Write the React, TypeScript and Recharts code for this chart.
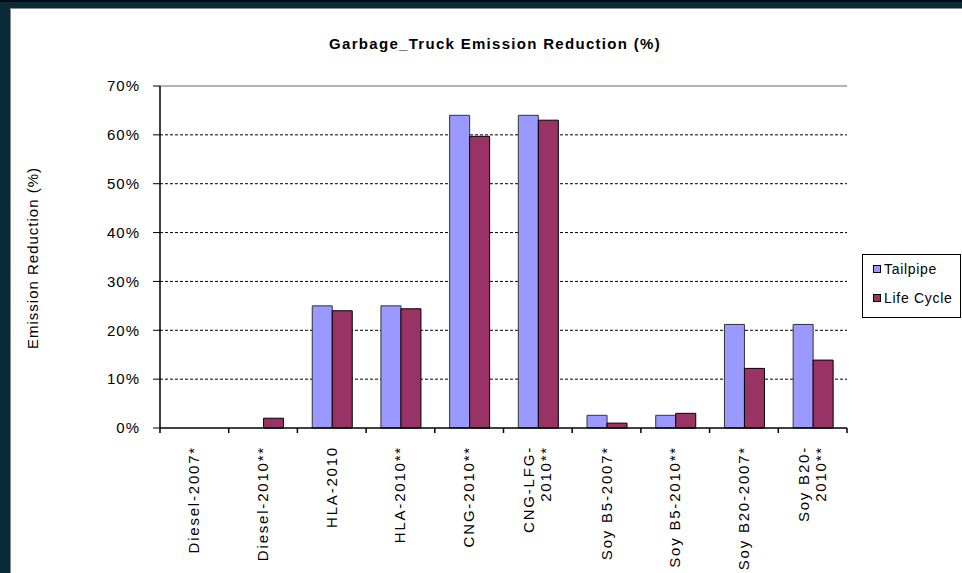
import { BarChart, Bar, XAxis, YAxis, CartesianGrid, ReferenceLine } from 'recharts';

const categories = [
  'Diesel-2007*',
  'Diesel-2010**',
  'HLA-2010',
  'HLA-2010**',
  'CNG-2010**',
  'CNG-LFG-2010**',
  'Soy B5-2007*',
  'Soy B5-2010**',
  'Soy B20-2007*',
  'Soy B20-2010**',
];
const tailpipe = [0, 0, 25, 25, 64, 64, 2.6, 2.6, 21.2, 21.2];
const lifeCycle = [0, 2, 24, 24.4, 59.7, 63, 1, 3, 12.2, 13.9];
const yTicks = [0, 10, 20, 30, 40, 50, 60, 70];
const gridValues = [10, 20, 30, 40, 50, 60];
const seriesNames = ['Tailpipe', 'Life Cycle'];
const seriesColors = ['#9999FF', '#993366'];

const data = categories.map((name, i) => ({ name, tailpipe: tailpipe[i], lifeCycle: lifeCycle[i] }));

const FONT = 'Arial, "Liberation Sans", sans-serif';
const W = 962;
const H = 573;
const M_LEFT = 10;
const Y_W = 150;
const M_RIGHT = 115;
const STEP = (W - M_LEFT - Y_W - M_RIGHT) / categories.length;

// split long labels after the last hyphen, like Excel wraps them
const wrap = (s: string) => {
  if (s.length <= 13) return [s];
  const k = s.lastIndexOf('-');
  return [s.slice(0, k + 1), s.slice(k + 1)];
};

const CatTick = (props: any) => {
  const { x, y, payload, index } = props;
  const lines = wrap(payload.value);
  const lh = 17;
  return (
    <g>
      <line x1={x - STEP / 2} x2={x - STEP / 2} y1={y} y2={y + 5} stroke="#000" strokeWidth={1.5} />
      {index === categories.length - 1 && (
        <line x1={x + STEP / 2} x2={x + STEP / 2} y1={y} y2={y + 5} stroke="#000" strokeWidth={1.5} />
      )}
      <g transform={`translate(${x},${y + 18})`}>
        <text transform="rotate(-90)" textAnchor="end" fontSize={15} fontFamily={FONT} fill="#000" letterSpacing={1.8}>
          {lines.map((l, i) => (
            <tspan key={i} x={0} y={5 + (i - (lines.length - 1) / 2) * lh}>
              {l}
            </tspan>
          ))}
        </text>
      </g>
    </g>
  );
};

const LegendBox = () => (
  <div
    style={{
      position: 'absolute',
      left: 862,
      top: 254,
      border: '1px solid #000',
      width: 99,
      height: 64,
      boxSizing: 'border-box',
      fontFamily: FONT,
      fontSize: 14,
      letterSpacing: 0.7,
      color: '#000',
      background: '#fff',
    }}
  >
    {seriesNames.map((label, i) => (
      <div key={label} style={{ position: 'absolute', left: 10, top: 5 + i * 29, height: 18, display: 'flex', alignItems: 'center' }}>
        <span style={{ width: 6, height: 6, background: seriesColors[i], border: '1px solid #000', display: 'inline-block', marginRight: 3 }} />
        <span>{label}</span>
      </div>
    ))}
  </div>
);

export default function App() {
  return (
    <div style={{ position: 'absolute', left: 0, top: 0, width: W, height: H, background: '#0a2a3a', overflow: 'hidden' }}>
      <div style={{ position: 'absolute', left: 0, top: 0, width: W, height: 2, background: '#020c12' }} />
      <div
        style={{
          position: 'absolute',
          left: 10,
          top: 8,
          width: W - 10,
          height: H - 8,
          background: '#fff',
          borderLeft: '1px solid #8a8a8a',
          borderTop: '1px solid #8a8a8a',
          boxSizing: 'border-box',
        }}
      />
      <div
        style={{
          position: 'absolute',
          left: 0,
          top: 35,
          width: 990,
          textAlign: 'center',
          fontFamily: FONT,
          fontWeight: 'bold',
          fontSize: 15,
          letterSpacing: 1.3,
          color: '#000',
        }}
      >
        Garbage_Truck Emission Reduction (%)
      </div>
      <div
        style={{
          position: 'absolute',
          left: 33 - 110,
          top: 258 - 10,
          width: 220,
          height: 20,
          lineHeight: '20px',
          textAlign: 'center',
          transform: 'rotate(-90deg)',
          fontFamily: FONT,
          fontSize: 15,
          letterSpacing: 1,
          color: '#000',
        }}
      >
        Emission Reduction (%)
      </div>
      <div style={{ position: 'absolute', left: 0, top: 0 }}>
        <BarChart
          width={W}
          height={H}
          data={data}
          margin={{ top: 86, right: M_RIGHT, left: M_LEFT, bottom: 0 }}
          barCategoryGap="21.6%"
          barGap={0}
        >
          <CartesianGrid vertical={false} horizontalValues={gridValues} stroke="#000" strokeDasharray="3 2" />
          <ReferenceLine y={70} stroke="#9a9a9a" strokeWidth={1.5} />
          <XAxis
            dataKey="name"
            interval={0}
            height={145}
            tickSize={0}
            tickMargin={0}
            tickLine={false}
            axisLine={{ stroke: '#000', strokeWidth: 1.5 }}
            tick={<CatTick />}
          />
          <YAxis
            width={Y_W}
            domain={[0, 70]}
            ticks={yTicks}
            interval={0}
            tickFormatter={(v) => `${v}%`}
            tickSize={7}
            tickMargin={13}
            axisLine={{ stroke: '#000', strokeWidth: 1.5 }}
            tickLine={{ stroke: '#000' }}
            tick={{ fontSize: 15, fill: '#000', fontFamily: FONT, letterSpacing: 1 }}
          />
          <YAxis
            yAxisId="right"
            orientation="right"
            width={0}
            domain={[0, 70]}
            tick={false}
            tickLine={false}
            axisLine={{ stroke: '#9a9a9a', strokeWidth: 1.5 }}
          />
          <Bar dataKey="tailpipe" name={seriesNames[0]} fill={seriesColors[0]} stroke="#333" strokeWidth={1} isAnimationActive={false} />
          <Bar dataKey="lifeCycle" name={seriesNames[1]} fill={seriesColors[1]} stroke="#000" strokeWidth={1} isAnimationActive={false} />
        </BarChart>
      </div>
      <LegendBox />
    </div>
  );
}
